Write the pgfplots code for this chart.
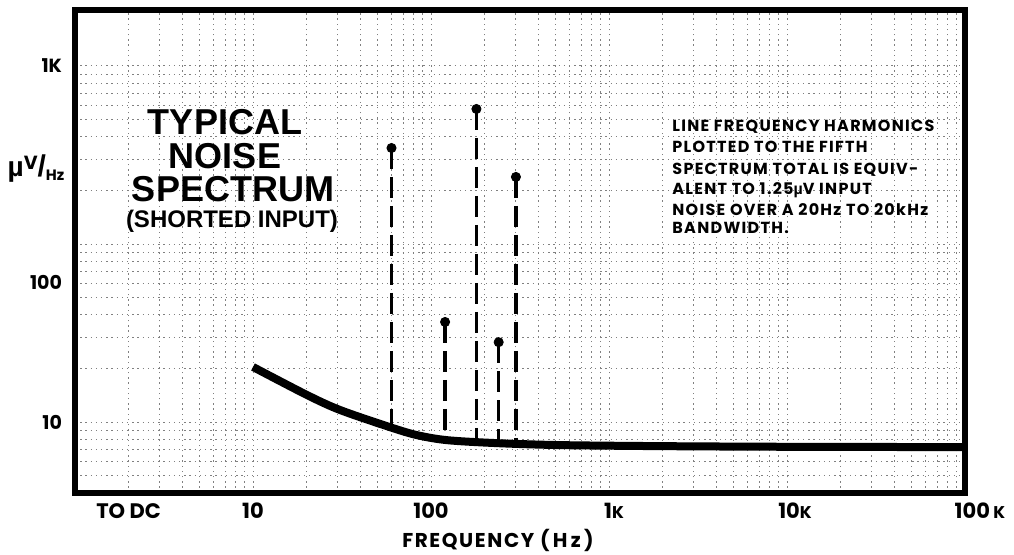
\documentclass[border=0pt]{standalone}
\usepackage{fontspec}
\usepackage{pgfplots}
\pgfplotsset{compat=1.18}
\newfontfamily\pop{Poppins}
\newfontfamily\popsp{Poppins}[LetterSpace=8]
\newfontfamily\libs{Liberation Sans}
\begin{document}
\begin{tikzpicture}
\begin{axis}[
  at={(37.5pt,31pt)}, anchor=south west,
  scale only axis, width=445pt, height=241.5pt,
  xmode=log, ymode=log,
  xmin=1, xmax=100000, ymin=4, ymax=2060,
  axis line style={line width=2.6pt},
  tick style={draw=none},
  xtick={10,100,1000,10000,100000},
  xticklabels={10,100,\makebox[0pt]{\hspace{5pt}1{\fontsize{8.5}{9}\selectfont K}},\makebox[0pt]{\hspace{8pt}10{\fontsize{8.5}{9}\selectfont K}},\makebox[0pt]{\hspace{15pt}100\,{\fontsize{8.5}{9}\selectfont K}}},
  extra x ticks={2},
  extra x tick labels={TO DC},
  extra x tick style={grid=none},
  minor xtick={2,3,4,5,6,7,8,9,20,30,40,50,60,70,80,90,200,300,400,500,600,700,800,900,2000,3000,4000,5000,6000,7000,8000,9000,20000,30000,40000,50000,60000,70000,80000,90000},
  ytick={10,100,1000},
  yticklabels={10,,1K},
  extra y ticks={61.2},
  extra y tick labels={100},
  extra y tick style={grid=none},
  minor ytick={5,6,7,8,9,20,30,40,50,60,70,80,90,200,300,400,500,600,700,800,900,2000},
  grid=both,
  major grid style={black!50, line width=0.5pt, dash pattern=on 0.7pt off 1.9pt},
  minor grid style={black!50, line width=0.5pt, dash pattern=on 0.7pt off 1.9pt},
  xticklabel style={font=\pop\bfseries\fontsize{10.5}{12}\selectfont, yshift=-1.5pt},
  yticklabel style={font=\pop\bfseries\fontsize{9.5}{11}\selectfont, xshift=-3pt},
]
% noise curve
\addplot[line width=4pt, smooth, black] coordinates {
  (10,20.4) (20.1,14.2) (30.8,11.7) (58.8,9.37) (83.5,8.45) (123,7.92)
  (235,7.62) (531,7.43) (2000,7.33) (10000,7.27) (100000,7.24)};
% line frequency harmonics
\addplot[line width=1.8pt, dash pattern=on 10.5pt off 4pt, black] coordinates {(60,346) (60,9.4)};
\addplot[line width=1.8pt, dash pattern=on 10.5pt off 4pt, black] coordinates {(120,36.5) (120,7.95)};
\addplot[line width=1.8pt, dash pattern=on 10.5pt off 4pt, black] coordinates {(180,573) (180,7.75)};
\addplot[line width=1.8pt, dash pattern=on 10.5pt off 4pt, black] coordinates {(240,28.1) (240,7.62)};
\addplot[line width=1.8pt, dash pattern=on 10.5pt off 4pt, black] coordinates {(300,238) (300,7.55)};
\addplot[only marks, mark=*, mark size=2.3pt, black] coordinates {(60,346) (120,36.5) (180,573) (240,28.1) (300,238)};
\end{axis}
% titles
\node[inner sep=0, font=\libs\bfseries\fontsize{18}{18}\selectfont] at (112.5pt,216.5pt) {TYPICAL};
\node[inner sep=0, font=\libs\bfseries\fontsize{18}{18}\selectfont] at (112.5pt,199.5pt) {NOISE};
\node[inner sep=0, font=\libs\bfseries\fontsize{18}{18}\selectfont] at (116.5pt,183pt) {SPECTRUM};
\node[inner sep=0, font=\libs\bfseries\fontsize{12}{12}\selectfont] at (116pt,166.8pt) {(SHORTED INPUT)};
% y label
\node[inner sep=0] at (18pt,193pt) {{\libs\bfseries\fontsize{14}{14}\selectfont µ}\raisebox{3.5pt}{\pop\bfseries\fontsize{9.5}{9.5}\selectfont V}{\libs\bfseries\fontsize{15}{15}\selectfont /}\raisebox{-2pt}{\pop\bfseries\fontsize{7.5}{7.5}\selectfont Hz}};
% annotation
\begin{scope}[every node/.style={inner sep=0, anchor=west, font=\popsp\bfseries\fontsize{8}{8}\selectfont}]
\node at (336pt,214pt) {LINE FREQUENCY HARMONICS};
\node at (336pt,204pt) {PLOTTED TO THE FIFTH};
\node at (336pt,192.5pt) {SPECTRUM TOTAL IS EQUIV-};
\node at (336pt,182.5pt) {ALENT TO 1.25{\libs\bfseries µ}V INPUT};
\node at (336pt,172.5pt) {NOISE OVER A 20Hz TO 20kHz};
\node at (336pt,163.5pt) {BANDWIDTH.};
\end{scope}
% x label
\node[inner sep=0, font=\popsp\bfseries\fontsize{10}{10}\selectfont] at (249pt,7.5pt) {FREQUENCY (\,H\,z\,)};
\pgfresetboundingbox
\useasboundingbox (0,0) rectangle (507pt,277.5pt);
\end{tikzpicture}
\end{document}
